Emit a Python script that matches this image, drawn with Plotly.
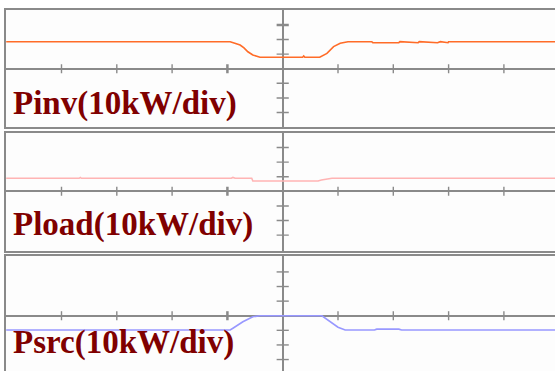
import plotly.graph_objects as go

# ---- data (x in time divisions, y in minor divisions of the scope grid) ----
pinv_t = [-5.0, -3.0, -0.95, -0.88, -0.77, -0.70, -0.63, -0.54, -0.41, 0.36, 0.38, 0.40, 0.67, 0.80, 0.92, 1.04, 1.18, 1.61, 1.63, 2.10, 2.12, 2.45, 2.47, 2.80, 2.85, 2.99, 3.0, 5.8]
pinv_v = [1.85, 1.85, 1.85, 1.76, 1.62, 1.42, 1.16, 0.94, 0.78, 0.78, 0.87, 0.78, 0.78, 1.05, 1.51, 1.74, 1.85, 1.85, 1.78, 1.78, 1.85, 1.78, 1.85, 1.78, 1.85, 1.78, 1.85, 1.85]

pload_t = [-5.0, -3.68, -3.66, -3.64, -0.93, -0.90, -0.86, -0.56, -0.54, 0.0, 0.30, 0.64, 0.70, 0.80, 0.89, 5.8]
pload_v = [0.89, 0.89, 0.95, 0.89, 0.89, 0.95, 0.89, 0.89, 0.71, 0.71, 0.71, 0.71, 0.78, 0.82, 0.89, 0.89]

psrc_t = [-5.0, -0.95, -0.90, -0.72, -0.54, -0.41, 0.71, 0.86, 1.0, 1.13, 1.66, 1.70, 2.10, 2.15, 2.60, 5.8]
psrc_v = [-0.98, -0.98, -0.86, -0.41, -0.07, 0.0, 0.0, -0.41, -0.79, -0.98, -0.98, -0.92, -0.92, -0.98, -0.98, -0.98]

labels = ["Pinv(10kW/div)", "Pload(10kW/div)", "Psrc(10kW/div)"]
x_ticks = [-4, -3, -2, -1, 1, 2, 3, 4, 5]
y_ticks = [-3, -2, -1, 1, 2, 3]

# ---- layout geometry (figure larger than the 555x371 window so the right and
#      bottom panel edges fall outside, as in the reference crop) ----
W, H = 600, 380
PX_PER_DIV = 55.3
X0_PX, XC_PX = 6.0, 282.7
x_range = [-(XC_PX - X0_PX) / PX_PER_DIV, (W - XC_PX) / PX_PER_DIV]
colors = ["#ff6c28", "#ffb4b4", "#9898ff"]
grid = "#8a8a8a"
panels = [
    # (y domain, y range, label y in px)
    ([(H - 127) / H, (H - 9.7) / H], [-3.99, 4.04], 104.0),
    ([(H - 250.5) / H, (H - 133) / H], [-4.05, 3.99], 224.0),
    ([(H - 374) / H, (H - 256) / H], [-3.99, 4.09], 342.0),
]
series = [(pinv_t, pinv_v), (pload_t, pload_v), (psrc_t, psrc_v)]

fig = go.Figure()
shapes = []
annotations = []
for i, ((dom, rng, ly), (t, v)) in enumerate(zip(panels, series)):
    n = "" if i == 0 else str(i + 1)
    xa, ya = "x" + n, "y" + n
    fig.add_trace(go.Scatter(x=t, y=v, mode="lines", xaxis=xa, yaxis=ya,
                             line=dict(color=colors[i], width=1.6), showlegend=False,
                             hoverinfo="skip"))
    fig.update_layout(**{
        "xaxis" + n: dict(domain=[X0_PX / W, 1], range=x_range, anchor=ya,
                          showgrid=False, showticklabels=False, ticks="",
                          zeroline=True, zerolinecolor=grid, zerolinewidth=2,
                          showline=True, mirror=True,
                          linecolor=grid, linewidth=2, fixedrange=True),
        "yaxis" + n: dict(domain=dom, range=rng, anchor=xa,
                          showgrid=False, showticklabels=False, ticks="",
                          zeroline=True, zerolinecolor=grid, zerolinewidth=1.6,
                          showline=True, mirror=False,
                          linecolor=grid, linewidth=2, fixedrange=True),
    })
    for xt in x_ticks:
        shapes.append(dict(type="line", xref=xa, yref=ya, x0=xt, x1=xt, y0=-0.31, y1=0.31,
                           line=dict(color=grid, width=2.5 if xt == -1 else 1.4), layer="below"))
    for yt in y_ticks:
        shapes.append(dict(type="line", xref=xa, yref=ya, x0=-0.11, x1=0.11, y0=yt, y1=yt,
                           line=dict(color=grid, width=2.5 if (i == 0 and yt == 3) else 1.4),
                           layer="below"))
    annotations.append(dict(text="<b>" + labels[i] + "</b>", xref="paper", yref="paper",
                            x=11 / W, y=(H - ly) / H, xanchor="left", yanchor="middle",
                            showarrow=False,
                            font=dict(family="Liberation Serif", size=33, color="#800000")))

fig.update_layout(width=W, height=H, margin=dict(l=0, r=0, t=0, b=0),
                  paper_bgcolor="white", plot_bgcolor="#fdfdfd",
                  shapes=shapes, annotations=annotations, showlegend=False)
fig.write_html("out.html", config={"displayModeBar": False},
               post_script="document.documentElement.style.overflow='hidden';document.body.style.margin='0';document.body.style.overflow='hidden';")
